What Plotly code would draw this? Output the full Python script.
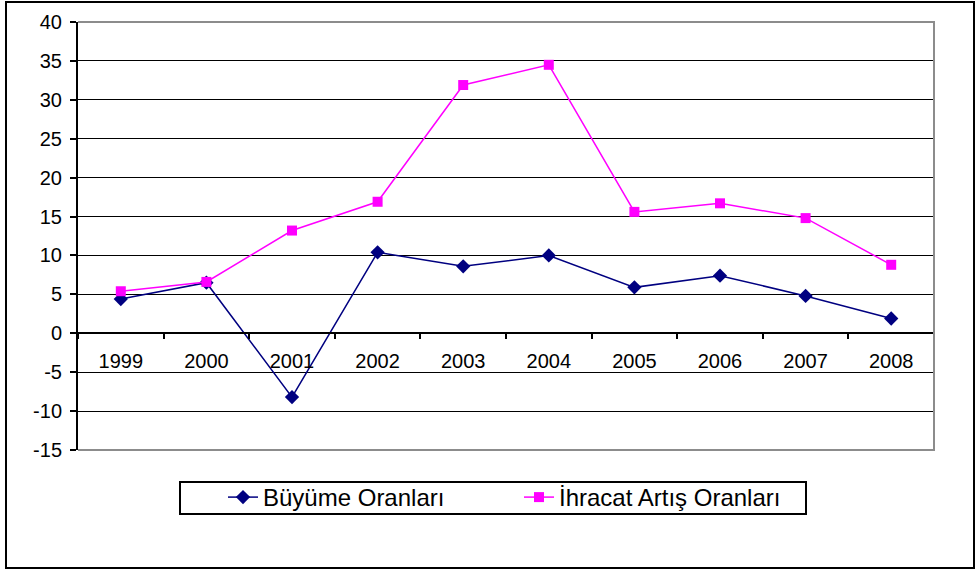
import plotly.graph_objects as go

# ---- data ----
years = ["1999", "2000", "2001", "2002", "2003", "2004", "2005", "2006", "2007", "2008"]
buyume = [4.4, 6.5, -8.2, 10.4, 8.6, 10.0, 5.9, 7.4, 4.8, 1.9]
ihracat = [5.4, 6.6, 13.2, 16.9, 31.9, 34.5, 15.6, 16.7, 14.8, 8.8]
series_names = ["Büyüme Oranları", "İhracat Artış Oranları"]
y_ticks = list(range(-15, 45, 5))

# ---- layout geometry (pixels) ----
W, H = 977, 572
L, R, T, B = 78, 934, 22, 450
pw, ph = R - L, B - T

def px(x):
    return (x - L) / pw

def py(y):
    return (B - y) / ph

FONT = "Liberation Sans, Arial, sans-serif"

fig = go.Figure()
fig.add_trace(go.Scatter(
    x=years, y=buyume, name=series_names[0], mode="lines+markers",
    line=dict(color="#000080", width=1.5),
    marker=dict(symbol="diamond", size=11, color="#000080"),
))
fig.add_trace(go.Scatter(
    x=years, y=ihracat, name=series_names[1], mode="lines+markers",
    line=dict(color="#FF00FF", width=1.5),
    marker=dict(symbol="square", size=10, color="#FF00FF"),
))

ymin, ymax = y_ticks[0], y_ticks[-1]
fig.update_layout(
    width=W, height=H,
    margin=dict(l=L, r=W - R, t=T, b=H - B, autoexpand=False),
    paper_bgcolor="white", plot_bgcolor="white",
    font=dict(family=FONT, size=20, color="black"),
    showlegend=True,
    legend=dict(
        orientation="h", x=px(223), xanchor="left", y=py(475), yanchor="top",
        borderwidth=0, bgcolor="rgba(0,0,0,0)",
        font=dict(family=FONT, size=24, color="black"),
        entrywidth=251, entrywidthmode="pixels",
    ),
    xaxis=dict(
        type="category", range=[-0.5, len(years) - 0.5],
        anchor="free", position=(0 - ymin) / (ymax - ymin),
        showline=True, linecolor="black", linewidth=1.5,
        ticks="outside", tickson="boundaries", ticklen=5, tickcolor="black", tickwidth=1.5,
        showgrid=False, ticklabelstandoff=10,
        tickfont=dict(family=FONT, size=20, color="black"),
    ),
    yaxis=dict(
        range=[ymin, ymax], tickvals=y_ticks, ticktext=[str(v) for v in y_ticks],
        showgrid=True, gridcolor="black", gridwidth=1.3,
        zeroline=True, zerolinecolor="black", zerolinewidth=1.5,
        showline=True, linecolor="black", linewidth=2,
        ticks="outside", ticklen=6, tickcolor="black", tickwidth=1.5,
        ticklabelstandoff=4,
        tickfont=dict(family=FONT, size=20, color="black"),
    ),
    shapes=[
        # plot area border (top, right, bottom) in gray
        dict(type="path", xref="paper", yref="paper",
             path="M 0,1 L 1,1 L 1,0 L 0,0",
             line=dict(color="#8c8c8c", width=2), layer="above"),
        # legend box
        dict(type="rect", xref="paper", yref="paper",
             x0=px(180), x1=px(806), y0=py(514), y1=py(482),
             line=dict(color="black", width=2), layer="above"),
        # outer chart border
        dict(type="rect", xref="paper", yref="paper",
             x0=px(6), x1=px(974), y0=py(568), y1=py(2),
             line=dict(color="black", width=2), layer="above"),
    ],
)

fig.write_html("out.html", config={"displayModeBar": False},
               post_script="document.body.style.margin='0';")
